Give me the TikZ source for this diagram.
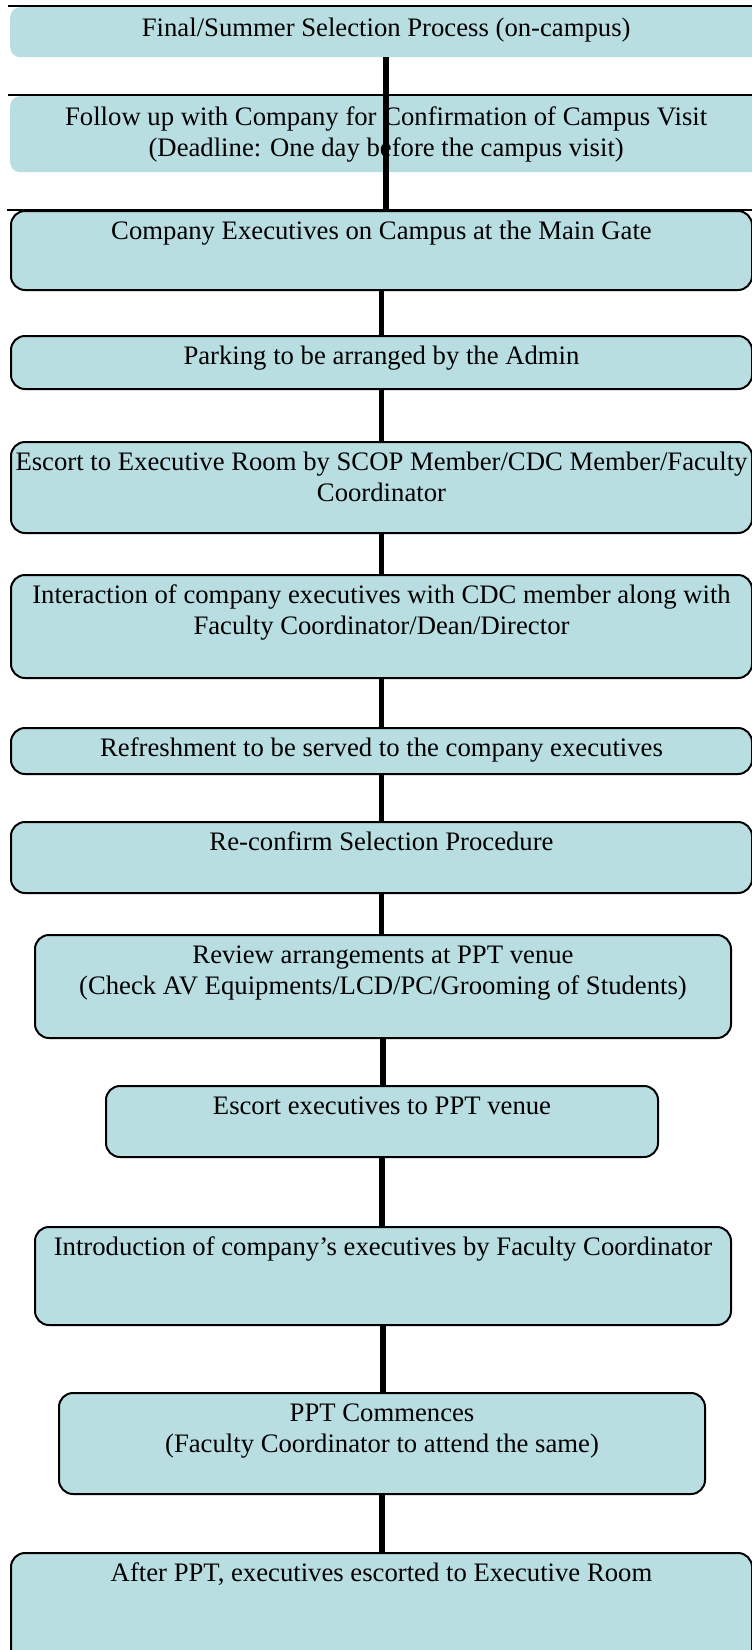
\documentclass[tikz,border=0pt]{standalone}
\usepackage{fontspec}
\setmainfont{Liberation Serif}
\definecolor{boxfill}{RGB}{184,222,226}
\begin{document}
\begin{tikzpicture}[x=1pt,y=-1pt,
  box/.style={draw=black, line width=2pt, fill=boxfill, rounded corners=14pt, inner sep=0pt, anchor=north west},
  plainbox/.style={fill=boxfill, rounded corners=10pt, inner sep=0pt, anchor=north west},
  txt/.style={anchor=north, inner sep=0pt, align=center, font=\fontsize{26.7}{31}\selectfont},
  conn/.style={line width=5.5pt},
  topline/.style={line width=2pt}]
\useasboundingbox (0,0) rectangle (752,1650);
\clip (0,0) rectangle (752,1650);
\fill[white] (0,0) rectangle (752,1650);
% boxes
\node[plainbox, minimum width=752pt, minimum height=50pt] (b1) at (10,7) {};
\node[plainbox, minimum width=752pt, minimum height=76pt] (b2) at (10,96) {};
\node[box, minimum width=741pt, minimum height=79pt] (b3) at (10,210) {};
\node[box, minimum width=741pt, minimum height=53pt] (b4) at (10,335) {};
\node[box, minimum width=741pt, minimum height=91pt] (b5) at (10,441) {};
\node[box, minimum width=741pt, minimum height=103pt] (b6) at (10,574) {};
\node[box, minimum width=741pt, minimum height=46pt] (b7) at (10,727) {};
\node[box, minimum width=741pt, minimum height=71pt] (b8) at (10,821) {};
\node[box, minimum width=696pt, minimum height=103pt] (b9) at (34,934) {};
\node[box, minimum width=552pt, minimum height=71pt] (b10) at (105,1085) {};
\node[box, minimum width=696pt, minimum height=98pt] (b11) at (34,1226) {};
\node[box, minimum width=646pt, minimum height=101pt] (b12) at (58,1392) {};
\node[box, minimum width=741pt, minimum height=160pt] (b13) at (10,1552) {};
% top rules of the first boxes
\draw[topline] (8,6) -- (752,6);
\draw[topline] (8,95) -- (752,95);
\draw[topline] (7,209.5) -- (752,209.5);
% texts
\node[txt] (t1) at ([yshift=-10pt]b1.north) {\rule{0pt}{19pt}Final/Summer Selection Process (on-campus)};
\node[txt] (t2) at ([yshift=-10pt]b2.north) {\rule{0pt}{19pt}Follow up with Company for Confirmation of Campus Visit\\(Deadline: One day before the campus visit)};
\node[txt] (t3) at ([yshift=-10pt]b3.north) {\rule{0pt}{19pt}Company Executives on Campus at the Main Gate};
\node[txt] (t4) at ([yshift=-10pt]b4.north) {\rule{0pt}{19pt}Parking to be arranged by the Admin};
\node[txt] (t5) at ([yshift=-10pt]b5.north) {\rule{0pt}{19pt}Escort to Executive Room by SCOP Member/CDC Member/Faculty\\Coordinator};
\node[txt] (t6) at ([yshift=-10pt]b6.north) {\rule{0pt}{19pt}Interaction of company executives with CDC member along with\\Faculty Coordinator/Dean/Director};
\node[txt] (t7) at ([yshift=-10pt]b7.north) {\rule{0pt}{19pt}Refreshment to be served to the company executives};
\node[txt] (t8) at ([yshift=-10pt]b8.north) {\rule{0pt}{19pt}Re-confirm Selection Procedure};
\node[txt] (t9) at ([yshift=-10pt]b9.north) {\rule{0pt}{19pt}Review arrangements at PPT venue\\(Check AV Equipments/LCD/PC/Grooming of Students)};
\node[txt] (t10) at ([yshift=-10pt]b10.north) {\rule{0pt}{19pt}Escort executives to PPT venue};
\node[txt] (t11) at ([yshift=-10pt]b11.north) {\rule{0pt}{19pt}Introduction of company’s executives by Faculty Coordinator};
\node[txt] (t12) at ([yshift=-10pt]b12.north) {\rule{0pt}{19pt}PPT Commences\\(Faculty Coordinator to attend the same)};
\node[txt] (t13) at ([yshift=-10pt]b13.north) {\rule{0pt}{19pt}After PPT, executives escorted to Executive Room};
% connectors
\draw[conn] (b1.south) -- (b1.south |- b3.north);
\draw[conn] (b3.south) -- (b3.south |- b4.north);
\draw[conn] (b4.south) -- (b4.south |- b5.north);
\draw[conn] (b5.south) -- (b5.south |- b6.north);
\draw[conn] (b6.south) -- (b6.south |- b7.north);
\draw[conn] (b7.south) -- (b7.south |- b8.north);
\draw[conn] (b8.south) -- (b8.south |- b9.north);
\draw[conn] (b9.south) -- (b9.south |- b10.north);
\draw[conn] (b10.south) -- (b10.south |- b11.north);
\draw[conn] (b11.south) -- (b11.south |- b12.north);
\draw[conn] (b12.south) -- (b12.south |- b13.north);
\end{tikzpicture}
\end{document}
